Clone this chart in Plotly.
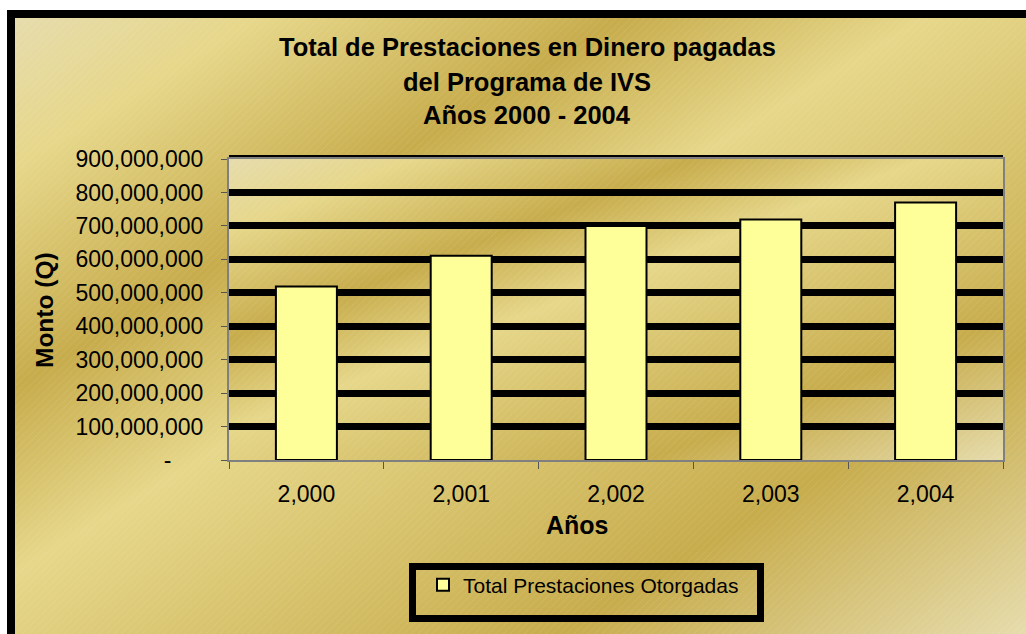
import base64
import plotly.graph_objects as go

# ---------------- data ----------------
categories = ["2,000", "2,001", "2,002", "2,003", "2,004"]
montos = [519_000_000, 611_000_000, 700_000_000, 719_000_000, 770_000_000]
ytick_vals = [0, 100_000_000, 200_000_000, 300_000_000, 400_000_000,
              500_000_000, 600_000_000, 700_000_000, 800_000_000, 900_000_000]
ytick_text = ["-\u00a0\u00a0\u00a0\u00a0\u00a0", "100,000,000", "200,000,000", "300,000,000",
              "400,000,000", "500,000,000", "600,000,000", "700,000,000",
              "800,000,000", "900,000,000"]
title_lines = ["Total de Prestaciones en Dinero pagadas", "del Programa de IVS", "Años 2000 - 2004"]
series_name = "Total Prestaciones Otorgadas"

# ---------------- layout geometry (pixels) ----------------
W, H = 1026, 634
L, R, T, B = 229, 1003, 159, 460
PW, PH = R - L, B - T


def px(x):
    return (x - L) / PW


def py(y):
    return (B - y) / PH


FONT = "Arial, Liberation Sans, sans-serif"


def gradient_uri(stops, w, h):
    st = "".join(f'<stop offset="{o}" stop-color="{c}"/>' for o, c in stops)
    svg = (f'<svg xmlns="http://www.w3.org/2000/svg" width="{w}" height="{h}" '
           f'viewBox="0 0 {w} {h}" preserveAspectRatio="none">'
           '<defs><linearGradient id="g" x1="0" y1="0" x2="1" y2="1">' + st +
           '</linearGradient>'
           '<pattern id="p" width="5" height="5" patternUnits="userSpaceOnUse" '
           'patternTransform="rotate(45)">'
           '<line x1="0" y1="0" x2="0" y2="5" stroke="white" stroke-opacity="0.22" '
           'stroke-width="1" stroke-dasharray="1.5,1"/></pattern></defs>'
           f'<rect width="{w}" height="{h}" fill="url(#g)"/>'
           f'<rect width="{w}" height="{h}" fill="url(#p)"/></svg>')
    return "data:image/svg+xml;base64," + base64.b64encode(svg.encode()).decode()


gold = [(0, "#E6DCAC"), (0.12, "#E6D78A"), (0.3, "#C7AC4C"),
        (0.45, "#E6D78A"), (0.77, "#C7AC4C"), (1, "#E6DCAC")]

fig = go.Figure()
fig.add_trace(go.Bar(
    x=categories, y=montos, name=series_name,
    marker=dict(color="#FFFF99", line=dict(color="black", width=2)),
    showlegend=True,
))

bg_w, bg_h = W - 15, H - 18
images = [
    # whole chart area background
    dict(source=gradient_uri(gold, bg_w, bg_h), xref="paper", yref="paper", x=px(15), y=py(18),
         sizex=bg_w / PW, sizey=bg_h / PH,
         xanchor="left", yanchor="top", sizing="stretch", layer="below"),
    # plot area background
    dict(source=gradient_uri(gold, PW, PH), xref="paper", yref="paper", x=0, y=1, sizex=1, sizey=1,
         xanchor="left", yanchor="top", sizing="stretch", layer="below"),
]

shapes = [
    # black frame of the chart area
    dict(type="rect", xref="paper", yref="paper", x0=px(11), x1=px(W + 40),
         y0=py(14), y1=py(H + 40), line=dict(color="black", width=8),
         fillcolor="rgba(0,0,0,0)", layer="below"),
    # dark top edge of the plot area
    dict(type="line", xref="paper", yref="paper", x0=0, x1=1, y0=py(157), y1=py(157),
         line=dict(color="black", width=4), layer="below"),
    # legend frame
    dict(type="rect", xref="paper", yref="paper", x0=px(412.5), x1=px(760.5),
         y0=py(566.5), y1=py(618.5), line=dict(color="black", width=7),
         fillcolor="rgba(0,0,0,0)", layer="above"),
]

annotations = []
for text, yc in zip(title_lines, [47, 82, 115]):
    annotations.append(dict(text=f"<b>{text}</b>", xref="paper", yref="paper",
                            x=px(527), y=py(yc), xanchor="center", yanchor="middle",
                            showarrow=False, font=dict(family=FONT, size=25.5, color="black")))
annotations.append(dict(text="<b>Años</b>", xref="paper", yref="paper", x=px(577), y=py(525),
                        xanchor="center", yanchor="middle", showarrow=False,
                        font=dict(family=FONT, size=25, color="black")))
annotations.append(dict(text="<b>Monto (Q)</b>", xref="paper", yref="paper", x=px(44), y=py(310),
                        xanchor="center", yanchor="middle", showarrow=False, textangle=-90,
                        font=dict(family=FONT, size=24.5, color="black")))

fig.update_layout(
    width=W, height=H,
    margin=dict(l=L, r=W - R, t=T, b=H - B, pad=0),
    paper_bgcolor="white",
    plot_bgcolor="rgba(0,0,0,0)",
    bargap=0.606,
    images=images,
    shapes=shapes,
    annotations=annotations,
    showlegend=True,
    legend=dict(x=px(423), y=py(585), xanchor="left", yanchor="middle",
                bgcolor="rgba(0,0,0,0)", borderwidth=0,
                font=dict(family=FONT, size=21, color="black")),
    font=dict(family=FONT, color="black"),
)

fig.update_xaxes(
    type="category", tickson="boundaries", ticks="outside", ticklen=7,
    tickcolor="#555555", tickwidth=1,
    showline=True, linecolor="#808080", linewidth=2, mirror=True,
    showgrid=False, tickfont=dict(family=FONT, size=23, color="black"),
    ticklabelstandoff=12,
)
fig.update_yaxes(
    range=[0, 900_000_000], tickvals=ytick_vals, ticktext=ytick_text,
    ticks="outside", ticklen=6, tickcolor="#555555", tickwidth=1,
    showline=True, linecolor="#808080", linewidth=2, mirror=True,
    showgrid=True, gridcolor="black", gridwidth=7, zeroline=False,
    tickfont=dict(family=FONT, size=23, color="black"), ticklabelstandoff=13,
)

fig.write_html(
    "out.html",
    config={"displayModeBar": False},
    post_script="document.body.style.margin='0';document.body.style.overflow='hidden';",
)
